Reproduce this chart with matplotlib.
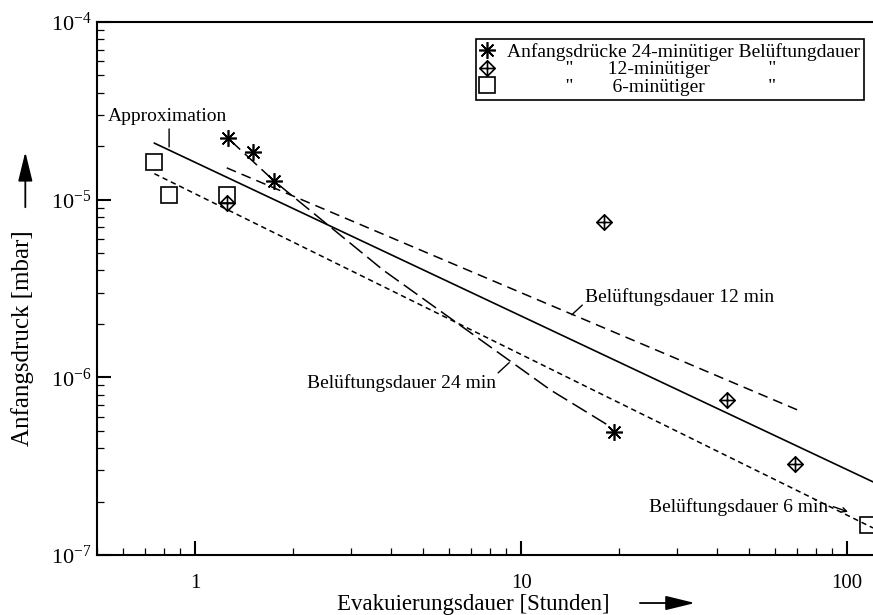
import matplotlib
matplotlib.use("Agg")
import matplotlib.pyplot as plt
from matplotlib.path import Path
from matplotlib.patches import FancyArrowPatch

plt.rcParams['font.family'] = ['Liberation Serif', 'DejaVu Serif']
plt.rcParams['mathtext.fontset'] = 'custom'
plt.rcParams['mathtext.rm'] = 'Liberation Serif'

## measured points (hours, mbar)
t24 = [1.26, 1.51, 1.75, 19.2]
p24 = [2.22e-5, 1.86e-5, 1.27e-5, 4.9e-7]
t12 = [1.25, 17.9, 42.8, 69.2]
p12 = [9.6e-6, 7.5e-6, 7.5e-7, 3.26e-7]
t6 = [0.75, 0.83, 1.25, 116.]
p6 = [1.63e-5, 1.06e-5, 1.06e-5, 1.48e-7]

## fitted lines
t_approx = [0.75, 120.]
p_approx = [2.08e-5, 2.58e-7]
t_fit6 = [0.75, 120.]
p_fit6 = [1.40e-5, 1.42e-7]
t_fit12 = [1.25, 70.3]
p_fit12 = [1.51e-5, 6.56e-7]
t_fit24 = [1.26, 1.75, 3.77, 12.3, 18.4]
p_fit24 = [2.22e-5, 1.27e-5, 4.02e-6, 8.49e-7, 5.40e-7]

legend_labels = ["Anfangsdrücke 24-minütiger Belüftungdauer",
                 " " * 12 + '"' + " " * 7 + "12-minütiger" + " " * 12 + '"',
                 " " * 12 + '"' + " " * 8 + "6-minütiger" + " " * 13 + '"']

## diamond with a cross inside
diamond_cross = Path(
    [(0, 1), (1, 0), (0, -1), (-1, 0), (0, 1), (0, 1), (0, -1), (-1, 0), (1, 0)],
    [Path.MOVETO, Path.LINETO, Path.LINETO, Path.LINETO, Path.CLOSEPOLY,
     Path.MOVETO, Path.LINETO, Path.MOVETO, Path.LINETO])

fig = plt.figure(figsize=(8.73, 6.15), dpi=100)
ax = fig.add_axes([97/873, 60/615, 776/873, 533/615])
ax.set_xscale("log")
ax.set_yscale("log")
ax.set_xlim(0.5, 120.)
ax.set_ylim(1e-7, 1e-4)

ax.plot(t_approx, p_approx, color="black", lw=1.2)
ax.plot(t_fit6, p_fit6, color="black", lw=1.1, dashes=(3.5, 2.5))
ax.plot(t_fit12, p_fit12, color="black", lw=1.1, dashes=(6.5, 4))
ax.plot(t_fit24, p_fit24, color="black", lw=1.1, dashes=(11, 4))

mk = dict(ls="none", color="black", mfc="none", mew=1.2, clip_on=False)
h24, = ax.plot(t24, p24, marker=(8, 2, 0), ms=12, **mk)
h12, = ax.plot(t12, p12, marker=diamond_cross, ms=11, **mk)
h6, = ax.plot(t6, p6, marker="s", ms=11, **mk)
h6.set_clip_on(True)

leg = ax.legend([h24, h12, h6], legend_labels, loc="upper right", bbox_to_anchor=(0.988, 0.968),
                fancybox=False, edgecolor="black", framealpha=1, fontsize=14,
                handlelength=0.8, handletextpad=0.6, borderpad=0.2, labelspacing=0.0,
                borderaxespad=0.)
leg.get_frame().set_linewidth(1.2)

## annotations
ann = dict(fontsize=14, va="center", ha="left")
line = dict(arrowstyle="-", lw=1.0, color="black", shrinkA=0, shrinkB=0)
ax.annotate("", xy=(0.832, 1.98e-5), xytext=(0.832, 2.50e-5), arrowprops=line)
ax.text(0.82, 2.92e-5, "Approximation", fontsize=14, va="center", ha="center")
ax.annotate("", xy=(9.19, 1.21e-6), xytext=(8.5, 1.06e-6), arrowprops=line)
ax.text(2.21, 9.27e-7, "Belüftungsdauer 24 min", **ann)
ax.annotate("", xy=(14.3, 2.25e-6), xytext=(15.4, 2.55e-6), arrowprops=line)
ax.text(15.7, 2.83e-6, "Belüftungsdauer 12 min", **ann)
ax.annotate("", xy=(100.6, 1.75e-7), xytext=(90.7, 1.87e-7),
            arrowprops=dict(arrowstyle="->", lw=1.0, color="black", shrinkA=0, shrinkB=0,
                            mutation_scale=8))
ax.text(24.7, 1.85e-7, "Belüftungsdauer 6 min", **ann)

## axes styling
for side in ("left", "bottom", "top"):
    ax.spines[side].set_linewidth(1.5)
ax.spines["right"].set_visible(False)
ax.set_xticks([1, 10, 100], labels=["1", "10", "100"])
ax.tick_params(which="both", direction="in", top=False, right=False, labelsize=16)
ax.tick_params(axis="x", labelsize=15)
ax.tick_params(which="major", length=10, width=1.5)
ax.tick_params(which="minor", length=5, width=0.9)
ax.tick_params(axis="x", which="major", pad=14)
ax.tick_params(axis="y", which="major", pad=4)

## axis labels with arrows
fig.text(0.542, 0.0175, "Evakuierungsdauer [Stunden]", ha="center", va="center", fontsize=16.5)
fig.text(0.026, 0.45, "Anfangsdruck [mbar]", ha="center", va="center", rotation=90, fontsize=18)
arrow = dict(arrowstyle="-|>,head_length=0.9,head_width=0.22", lw=1.3, color="black",
             shrinkA=0, shrinkB=0, mutation_scale=20)
fig.add_artist(FancyArrowPatch((0.733, 0.0195), (0.796, 0.0195),
                               transform=fig.transFigure, **arrow))
fig.add_artist(FancyArrowPatch((0.029, 0.663), (0.029, 0.753),
                               transform=fig.transFigure, **arrow))

fig.savefig("out.png", dpi=100)
